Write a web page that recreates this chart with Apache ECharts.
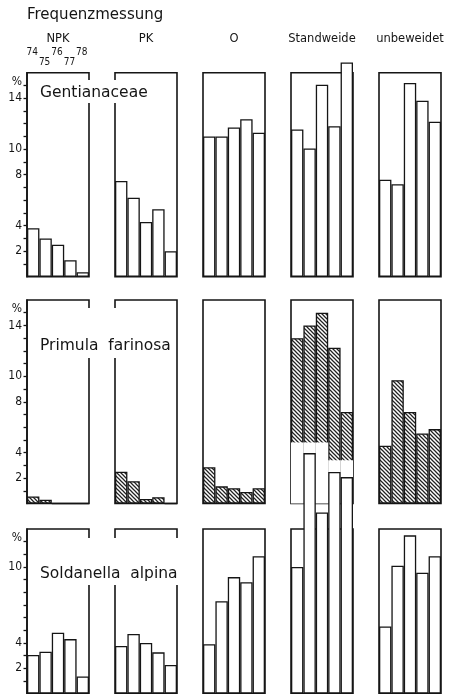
<!DOCTYPE html>
<html><head><meta charset="utf-8">
<script src="https://cdn.jsdelivr.net/npm/echarts@6/dist/echarts.min.js"></script>
<style>html,body{margin:0;padding:0;background:#fff}#c{width:454px;height:694px}</style>
</head><body><div id="c"></div>
<script>
// ---- data ----
const mainTitle = 'Frequenzmessung';
const years = ['74', '75', '76', '77', '78'];
const treatments = ['NPK', 'PK', 'O', 'Standweide', 'unbeweidet'];
const species = ['Gentianaceae', 'Primula  farinosa', 'Soldanella  alpina'];

const gentNPK = [3.8, 3.0, 2.5, 1.3, 0.35];
const gentPK  = [7.5, 6.2, 4.3, 5.3, 2.0];
const gentO   = [11.0, 11.0, 11.7, 12.35, 11.3];
const gentSW  = [11.55, 10.05, 15.05, 11.8, 16.8];
const gentUB  = [7.6, 7.25, 15.2, 13.8, 12.15];

const primNPK = [0.55, 0.3, 0, 0, 0];
const primPK  = [2.5, 1.75, 0.35, 0.5, 0];
const primO   = [2.85, 1.35, 1.2, 0.9, 1.2];
const primSW  = [13.0, 14.0, 15.0, 12.25, 7.2];
const primUB  = [4.55, 9.7, 7.2, 5.5, 5.85];

const soldNPK = [3.05, 3.3, 4.8, 4.3, 1.35];
const soldPK  = [3.75, 4.7, 4.0, 3.25, 2.25];
const soldO   = [3.9, 7.3, 9.2, 8.8, 10.85];
const soldSW  = [10.0, 19.0, 14.3, 17.5, 17.1];
const soldUB  = [5.3, 10.1, 12.5, 9.55, 10.85];

// white paste-over patch visible in the reference (Primula / Standweide panel)
const primSWPatch = [4.8, 4.8, 4.8, 3.4, 3.4];

const yMaxRows = [16, 16, 13];
const yLabelRows = [[2, 4, 8, 10, 14], [2, 4, 8, 10, 14], [2, 4, 10]];
const pctTickRows = [15, 15, 12];
const pctLabel = '%';

// ---- layout ----
const FONT = '"DejaVu Sans", "Liberation Sans", sans-serif';
const FONT_C = '"DejaVu Sans Condensed", "DejaVu Sans", sans-serif';
const INK = '#151515';
const rowTop = [72.7, 300, 529];
const rowH = [204, 203.5, 164.5];
const colLeft = c => 27 + 88 * c;
const colW = 62;

const rows = [
  [gentNPK, gentPK, gentO, gentSW, gentUB],
  [primNPK, primPK, primO, primSW, primUB],
  [soldNPK, soldPK, soldO, soldSW, soldUB]
];

function makeHatch() {
  const s = 4, cv = document.createElement('canvas');
  cv.width = s; cv.height = s;
  const ctx = cv.getContext('2d');
  ctx.fillStyle = '#fff'; ctx.fillRect(0, 0, s, s);
  ctx.strokeStyle = '#222'; ctx.lineWidth = 1.25;
  ctx.beginPath();
  ctx.moveTo(-1, -1); ctx.lineTo(s + 1, s + 1);
  ctx.moveTo(-1, s - 1); ctx.lineTo(1, s + 1);
  ctx.moveTo(s - 1, -1); ctx.lineTo(s + 1, 1);
  ctx.stroke();
  return cv;
}
const hatch = { image: makeHatch(), repeat: 'repeat' };

const grids = [], xAxes = [], yAxes = [], series = [];
for (let r = 0; r < 3; r++) {
  const pct = pctTickRows[r];
  const shown = yLabelRows[r].concat([pct]);
  for (let c = 0; c < 5; c++) {
    const g = r * 5 + c;
    grids.push({
      left: colLeft(c), top: rowTop[r], width: colW, height: rowH[r],
      show: true, borderColor: INK, borderWidth: 1.6, backgroundColor: 'transparent'
    });
    const topLabels = (r === 0 && c === 0);
    xAxes.push({
      gridIndex: g, type: 'category', data: years, position: topLabels ? 'top' : 'bottom',
      show: topLabels,
      axisLine: { show: false }, axisTick: { show: false },
      axisLabel: {
        show: topLabels, interval: 0, margin: 5, color: INK,
        fontFamily: FONT_C, fontSize: 10,
        formatter: (v, i) => (i % 2 ? '{lo|' + v + '}' : '{hi|' + v + '}'),
        rich: {
          hi: { fontFamily: FONT_C, fontSize: 10, color: INK, padding: [0, 2, 10, 0] },
          lo: { fontFamily: FONT_C, fontSize: 10, color: INK, padding: [0, 2, 0, 0] }
        }
      }
    });
    yAxes.push({
      gridIndex: g, type: 'value', min: 0, max: yMaxRows[r], interval: 1,
      show: c === 0, position: 'left',
      splitLine: { show: false },
      axisLine: { show: true, onZero: false, lineStyle: { color: INK, width: 1.6 } },
      axisTick: { show: true, inside: false, interval: 0, length: 3.5, lineStyle: { color: INK, width: 1.3 } },
      axisLabel: {
        show: true, interval: 0, margin: 5, showMinLabel: false, showMaxLabel: false,
        color: INK, fontFamily: FONT_C, fontSize: 12,
        formatter: v => (v === pct ? '{p|' + pctLabel + '}' : (shown.indexOf(v) >= 0 ? String(v) : '')),
        rich: { p: { fontFamily: FONT_C, fontSize: 12, color: INK, padding: [0, 0, 7, 0] } }
      }
    });
    series.push({
      type: 'bar', xAxisIndex: g, yAxisIndex: g, data: rows[r][c],
      barCategoryGap: '0%', barGap: '-100%', clip: false, silent: true, animation: false,
      z: r === 2 ? 5 : 2,
      itemStyle: { color: r === 1 ? hatch : '#fff', borderColor: INK, borderWidth: 1.3 }
    });
    if (r === 1 && c === 3) {
      series.push({
        type: 'bar', xAxisIndex: g, yAxisIndex: g, data: primSWPatch,
        barCategoryGap: '0%', barGap: '-100%', silent: true, animation: false, z: 3,
        itemStyle: { color: '#fff', borderWidth: 0 }
      });
    }
  }
}

const titles = [{
  text: mainTitle, left: 27, top: 8, padding: 0,
  textStyle: { fontFamily: FONT, fontSize: 15, lineHeight: 15, fontWeight: 'normal', color: INK }
}];
treatments.forEach((t, c) => titles.push({
  text: t, left: colLeft(c) + colW / 2, top: 33.5, textAlign: 'center', padding: 0,
  textStyle: { fontFamily: FONT, fontSize: 11.5, lineHeight: 12, fontWeight: 'normal', color: INK }
}));
const coverTop = [80, 308, 538];
const coverPad = [[5, 24, 2, 5], [29.7, 3, 4.3, 5], [27.5, 3, 3.5, 5]];
species.forEach((s, r) => titles.push({
  text: s, left: 35, top: coverTop[r], padding: coverPad[r], backgroundColor: '#fff', z: 10,
  textStyle: { fontFamily: FONT, fontSize: 15.5, lineHeight: 16, fontWeight: 'normal', color: INK }
}));

const chart = echarts.init(document.getElementById('c'), null, { renderer: 'canvas' });
chart.setOption({
  animation: false,
  backgroundColor: '#fff',
  title: titles,
  grid: grids,
  xAxis: xAxes,
  yAxis: yAxes,
  series: series
});
</script>
</body></html>
